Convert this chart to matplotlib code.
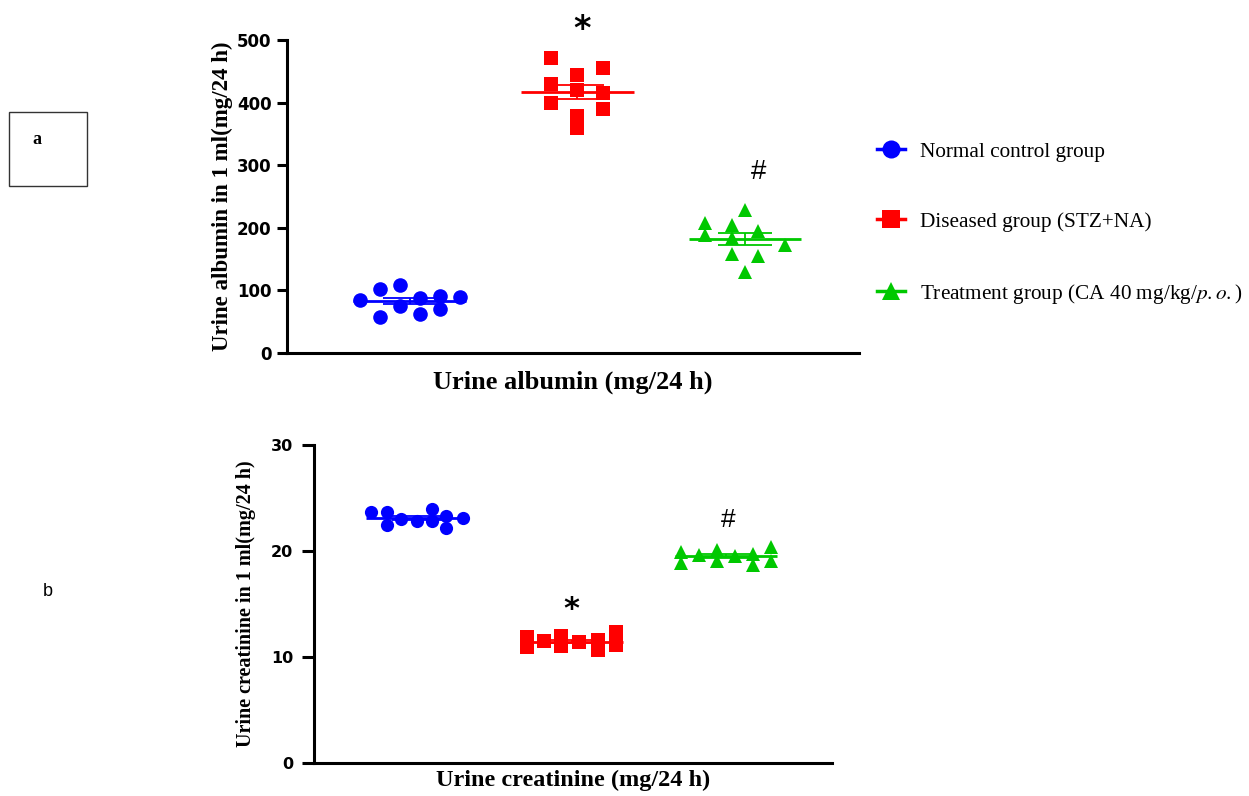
import numpy as np
import matplotlib
matplotlib.use("Agg")
import matplotlib.pyplot as plt
from matplotlib.lines import Line2D
from matplotlib.patches import Rectangle

plt.rcParams["mathtext.fontset"] = "stix"

# ---------------- data ----------------
groups = ["Normal control group", "Diseased group (STZ+NA)", "Treatment group (CA 40 mg/kg/$\\it{p.o.}$)"]

albumin_normal = [84, 103, 57, 108, 75, 88, 63, 91, 71, 89]
albumin_diseased = [471, 429, 400, 444, 420, 379, 359, 456, 415, 390]
albumin_treatment = [208, 188, 205, 184, 158, 229, 129, 195, 155, 172]

creat_normal = [23.65, 23.65, 22.5, 23.0, 22.8, 24.0, 22.8, 23.3, 22.2, 23.1]
creat_diseased = [11.84, 10.9, 11.5, 12.0, 11.05, 11.4, 11.6, 10.7, 12.4, 11.1]
creat_treatment = [19.9, 18.9, 19.6, 20.07, 19.1, 19.5, 19.75, 18.7, 20.4, 19.1]

top_ticks = [0, 100, 200, 300, 400, 500]
bot_ticks = [0, 10, 20, 30]

# ---------------- layout (jitter offsets, styles) ----------------
jit_top = [
    [-0.298, -0.179, -0.179, -0.06, -0.06, 0.06, 0.06, 0.179, 0.179, 0.298],
    [-0.155, -0.155, -0.155, 0.0, 0.0, 0.0, 0.0, 0.155, 0.155, 0.155],
    [-0.238, -0.238, -0.079, -0.079, -0.079, 0.0, 0.0, 0.079, 0.079, 0.238],
]
jit_bot = [
    [-0.297, -0.19, -0.19, -0.1, 0.0, 0.1, 0.1, 0.19, 0.19, 0.297],
    [-0.29, -0.29, -0.18, -0.066, -0.066, 0.047, 0.17, 0.17, 0.29, 0.29],
    [-0.29, -0.29, -0.174, -0.058, -0.058, 0.058, 0.174, 0.174, 0.29, 0.29],
]
colors = ["#0000FF", "#FF0000", "#00C800"]
markers = ["o", "s", "^"]

serif = ["Liberation Serif", "DejaVu Serif"]

W, H = 1249, 796
fig = plt.figure(figsize=(W / 100, H / 100), dpi=100)

def fx(px):
    return px / W

def fy(py):
    return 1 - py / H

ax1 = fig.add_axes([fx(287), fy(353), fx(859) - fx(287), fy(40) - fy(353)])
ax2 = fig.add_axes([fx(314), fy(763), fx(832) - fx(314), fy(445) - fy(763)])

def panel(ax, data, jit, msize, mean_half, cap_half, xlim, ylim, ticks, tick_size, tlen, tpad):
    for i, vals in enumerate(data):
        vals = np.asarray(vals, float)
        xs = i + np.asarray(jit[i])
        ax.plot(xs, vals, linestyle="none", marker=markers[i], color=colors[i],
                markersize=msize, markeredgewidth=0, zorder=3, clip_on=False)
        m = vals.mean()
        sem = vals.std(ddof=1) / np.sqrt(len(vals))
        ax.hlines(m, i - mean_half, i + mean_half, color=colors[i], lw=2.0, zorder=4)
        ax.hlines([m - sem, m + sem], i - cap_half, i + cap_half, color=colors[i], lw=1.3, zorder=4)
        ax.vlines(i, m - sem, m + sem, color=colors[i], lw=1.3, zorder=4)
    ax.set_xlim(*xlim)
    ax.set_ylim(*ylim)
    ax.set_yticks(ticks)
    ax.set_xticks([])
    for s in ["top", "right"]:
        ax.spines[s].set_visible(False)
    for s in ["left", "bottom"]:
        ax.spines[s].set_linewidth(2.2)
    ax.tick_params(axis="y", length=tlen, width=2.2, labelsize=tick_size, pad=tpad)
    for lab in ax.get_yticklabels():
        lab.set_fontweight("bold")
        lab.set_family("DejaVu Sans")

panel(ax1, [albumin_normal, albumin_diseased, albumin_treatment], jit_top, 10.5,
      0.336, 0.16, (-0.732, 2.679), (0, 500), top_ticks, 12, 7, 4)
panel(ax2, [creat_normal, creat_diseased, creat_treatment], jit_bot, 9.5,
      0.33, 0.16, (-0.665, 2.684), (0, 30), bot_ticks, 11.5, 9, 6)

ax1.set_ylabel("Urine albumin in 1 ml(mg/24 h)", family=serif, fontweight="bold", fontsize=16.5, labelpad=3)
ax1.set_xlabel("Urine albumin (mg/24 h)", family=serif, fontweight="bold", fontsize=19, labelpad=13)
ax2.set_ylabel("Urine creatinine in 1 ml(mg/24 h)", family=serif, fontweight="bold", fontsize=14.5, labelpad=11)
ax2.set_xlabel("Urine creatinine (mg/24 h)", family=serif, fontweight="bold", fontsize=17.5, labelpad=5)

# significance marks
ax1.text(1.03, 516, "*", ha="center", va="center", fontsize=24, fontweight="bold", clip_on=False)
ax1.text(2.08, 289, "#", ha="center", va="center", fontsize=20, family=["Liberation Sans"], clip_on=False)
ax2.text(1.0, 14.5, "*", ha="center", va="center", fontsize=22, fontweight="bold", clip_on=False)
ax2.text(2.01, 22.9, "#", ha="center", va="center", fontsize=19, family=["Liberation Sans"], clip_on=False)

# legend
handles = [Line2D([0], [0], color=colors[i], marker=markers[i], markersize=13, lw=2.5,
                  markeredgewidth=0) for i in range(3)]
fig.legend(handles, groups, loc="upper left", bbox_to_anchor=(fx(877), fy(142)),
           frameon=False, prop={"family": serif, "size": 15.3}, handlelength=1.3,
           handletextpad=0.7, labelspacing=2.35, borderaxespad=0, borderpad=0)

# panel labels
fig.add_artist(Rectangle((fx(9), fy(186)), fx(87) - fx(9), fy(112) - fy(186),
                         transform=fig.transFigure, fill=False, lw=1.0, edgecolor="#333333"))
fig.text(fx(37), fy(140), "a", family=serif, fontweight="bold", fontsize=13, ha="center", va="center")
fig.text(fx(48), fy(592), "b", family=["Liberation Sans"], fontsize=13, ha="center", va="center")

fig.savefig("out.png", dpi=100)
